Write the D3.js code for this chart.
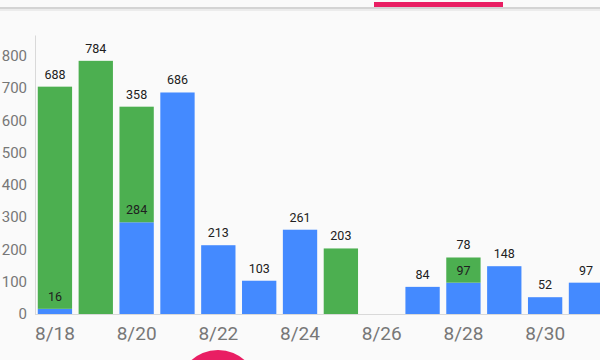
<!DOCTYPE html>
<html>
<head>
<meta charset="utf-8">
<script src="https://cdn.jsdelivr.net/npm/d3@7/dist/d3.min.js"></script>
<style>
  html, body { margin: 0; padding: 0; background: #fafafa; }
  svg { display: block; font-family: Roboto, "Noto Sans", sans-serif; }
</style>
</head>
<body>
<svg id="chart" width="600" height="360"></svg>
<script>
// ---- data ----
const dates = ["8/18","8/19","8/20","8/21","8/22","8/23","8/24","8/25","8/26","8/27","8/28","8/29","8/30","8/31"];
const blueValues  = [16, 0, 284, 686, 213, 103, 261, 0, 0, 84, 97, 148, 52, 97];
const greenValues = [688, 784, 358, 0, 0, 0, 0, 203, 0, 0, 78, 0, 0, 0];
const yTickValues = [0, 100, 200, 300, 400, 500, 600, 700, 800];
const xTickLabels = ["8/18","8/20","8/22","8/24","8/26","8/28","8/30"];
const seriesKeys = ["blue", "green"];
const seriesColors = ["#448aff", "#4caf50"];

const svg = d3.select("#chart");
const W = 600, H = 360;

svg.append("rect").attr("width", W).attr("height", H).attr("fill", "#fafafa");

// top app-bar remnants
svg.append("rect").attr("x", 0).attr("y", 7).attr("width", W).attr("height", 2).attr("fill", "#d4d4d4");
svg.append("rect").attr("x", 0).attr("y", 9).attr("width", W).attr("height", 2).attr("fill", "#ececec");
svg.append("rect").attr("x", 374).attr("y", 2).attr("width", 129).attr("height", 5).attr("fill", "#e91e63");

const table = dates.map((d, i) => ({ date: d, blue: blueValues[i], green: greenValues[i] }));
const stacked = d3.stack().keys(seriesKeys)(table);

const x = d3.scaleBand().domain(dates).range([34.5, 606.4]).paddingInner(0.16).paddingOuter(0.08);
const y = d3.scaleLinear().domain([0, 864]).range([314, 35]);

const plot = svg.append("g");

// bars
stacked.forEach((layer, li) => {
  plot.append("g").selectAll("rect")
    .data(layer.filter(d => d[1] - d[0] > 0))
    .join("rect")
    .attr("x", d => x(d.data.date))
    .attr("width", x.bandwidth())
    .attr("y", d => y(d[1]))
    .attr("height", d => y(d[0]) - y(d[1]))
    .attr("fill", seriesColors[li]);
});

// value labels
stacked.forEach((layer) => {
  plot.append("g").selectAll("text")
    .data(layer.filter(d => d[1] - d[0] > 0))
    .join("text")
    .attr("x", d => x(d.data.date) + x.bandwidth() / 2)
    .attr("y", d => y(d[1]) - 8)
    .attr("text-anchor", "middle")
    .attr("font-size", 12.5)
    .attr("fill", "#202020")
    .text(d => d[1] - d[0]);
});

// y axis
const yAxis = svg.append("g").attr("transform", "translate(35,0)")
  .call(d3.axisLeft(y).tickValues(yTickValues).tickSize(0).tickSizeOuter(0).tickPadding(8));
yAxis.select(".domain").attr("stroke", "#d9d9d9").attr("stroke-width", 1);
yAxis.selectAll("text").attr("font-size", 15).attr("fill", "#777").attr("font-family", "Roboto");

// x axis
const xAxis = svg.append("g").attr("transform", "translate(0,314)")
  .call(d3.axisBottom(x).tickValues(xTickLabels).tickSize(0).tickSizeOuter(0).tickPadding(8));
xAxis.select(".domain").attr("stroke", "#d9d9d9").attr("stroke-width", 1);
xAxis.selectAll("text").attr("font-size", 19).attr("fill", "#777").attr("font-family", "Roboto")
  .attr("dy", null).attr("y", 26);

// floating action button remnant
svg.append("circle").attr("cx", 218).attr("cy", 390).attr("r", 40).attr("fill", "#e91e63");
</script>
</body>
</html>
